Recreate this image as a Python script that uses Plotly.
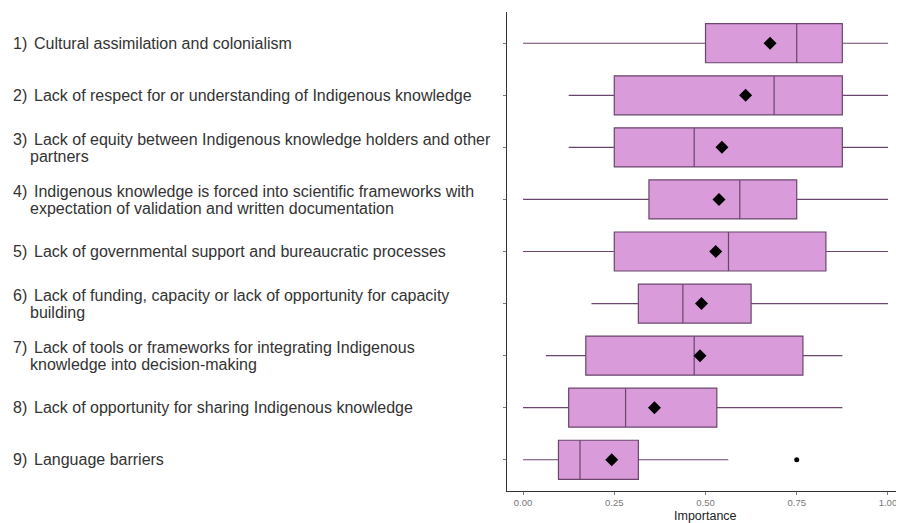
import plotly.graph_objects as go

# ---- data ----
categories = ["1)", "2)", "3)", "4)", "5)", "6)", "7)", "8)", "9)"]
label_lines = [
    ["Cultural assimilation and colonialism"],
    ["Lack of respect for or understanding of Indigenous knowledge"],
    ["Lack of equity between Indigenous knowledge holders and other", "partners"],
    ["Indigenous knowledge is forced into scientific frameworks with",
     "expectation of validation and written documentation"],
    ["Lack of governmental support and bureaucratic processes"],
    ["Lack of funding, capacity or lack of opportunity for capacity", "building"],
    ["Lack of tools or frameworks for integrating Indigenous",
     "knowledge into decision-making"],
    ["Lack of opportunity for sharing Indigenous knowledge"],
    ["Language barriers"],
]
q1 = [0.50, 0.25, 0.25, 0.345, 0.25, 0.316, 0.172, 0.125, 0.097]
median = [0.75, 0.688, 0.469, 0.594, 0.563, 0.438, 0.469, 0.281, 0.156]
q3 = [0.875, 0.875, 0.875, 0.75, 0.83, 0.625, 0.767, 0.531, 0.316]
lower_whisker = [0.0, 0.125, 0.125, 0.0, 0.0, 0.1875, 0.0625, 0.0, 0.0]
upper_whisker = [1.0, 1.0, 1.0, 1.0, 1.0, 1.0, 0.875, 0.875, 0.5625]
means = [0.677, 0.61, 0.545, 0.537, 0.528, 0.489, 0.485, 0.36, 0.243]
outlier_category = ["9)"]
outlier_value = [0.75]
x_ticks = [0.0, 0.25, 0.5, 0.75, 1.0]
x_tick_labels = ["0.00", "0.25", "0.50", "0.75", "1.00"]
x_title = "Importance"

FILL = "#D99BD9"
EDGE = "#6a466c"
FONT = "Liberation Sans, Arial"
LABEL_SIZE = 16

fig = go.Figure()
fig.add_trace(go.Box(
    y=categories, q1=q1, median=median, q3=q3,
    lowerfence=lower_whisker, upperfence=upper_whisker,
    orientation="h", fillcolor=FILL,
    line=dict(color=EDGE, width=1.2), whiskerwidth=0,
    width=0.75, boxpoints=False, hoverinfo="skip", showlegend=False,
))
fig.add_trace(go.Scatter(
    x=means, y=categories, mode="markers",
    marker=dict(symbol="diamond", size=10, color="black"),
    hoverinfo="skip", showlegend=False,
))
fig.add_trace(go.Scatter(
    x=outlier_value, y=outlier_category, mode="markers",
    marker=dict(symbol="circle", size=5, color="black"),
    hoverinfo="skip", showlegend=False,
))

# page body has an 8px margin, so the figure is sized to fill the rest
OFF = 8
W, H = 904 - OFF, 523 - OFF
L, R, T, B = 507 - OFF, 0, 12 - OFF, 523 - 491
plot_w = W - L - R


def px_to_paper(px):
    return -(L - (px - OFF)) / plot_w


annotations = []
for cat, lines in zip(categories, label_lines):
    n = len(lines)
    offsets = [0] if n == 1 else [8, -9]
    annotations.append(dict(
        x=px_to_paper(11), xref="paper", y=cat, yref="y", yshift=offsets[0],
        text=cat, showarrow=False, xanchor="left", yanchor="middle",
        font=dict(family=FONT, size=LABEL_SIZE, color="#333333"),
    ))
    for i, (line, off) in enumerate(zip(lines, offsets)):
        annotations.append(dict(
            x=px_to_paper(32 if i == 0 else 28), xref="paper", y=cat, yref="y",
            yshift=off, text=line, showarrow=False, xanchor="left", yanchor="middle",
            font=dict(family=FONT, size=LABEL_SIZE, color="#333333"),
        ))
annotations.append(dict(
    x=0.5, xref="x", y=0, yref="paper", yshift=-25,
    text=x_title, showarrow=False, xanchor="center", yanchor="middle",
    font=dict(family=FONT, size=12.5, color="#222222"),
))

fig.update_layout(
    width=W, height=H,
    margin=dict(l=L, r=R, t=T, b=B, pad=0, autoexpand=False),
    plot_bgcolor="white", paper_bgcolor="white",
    annotations=annotations,
    xaxis=dict(
        range=[-0.044, 1.044], tickvals=x_ticks, ticktext=x_tick_labels,
        automargin=False,
        showgrid=False, zeroline=False, showline=True, linecolor="#333333", linewidth=1,
        ticks="outside", ticklen=3, tickcolor="#777777",
        tickfont=dict(family=FONT, size=9.5, color="#777777"),
    ),
    yaxis=dict(
        type="category", categoryorder="array", categoryarray=categories[::-1],
        range=[-0.6, 8.6], showticklabels=False, automargin=False,
        showgrid=False, zeroline=False, showline=True, linecolor="#333333", linewidth=1,
        ticks="outside", ticklen=3, tickcolor="#777777",
    ),
)

fig.write_html("out.html")
